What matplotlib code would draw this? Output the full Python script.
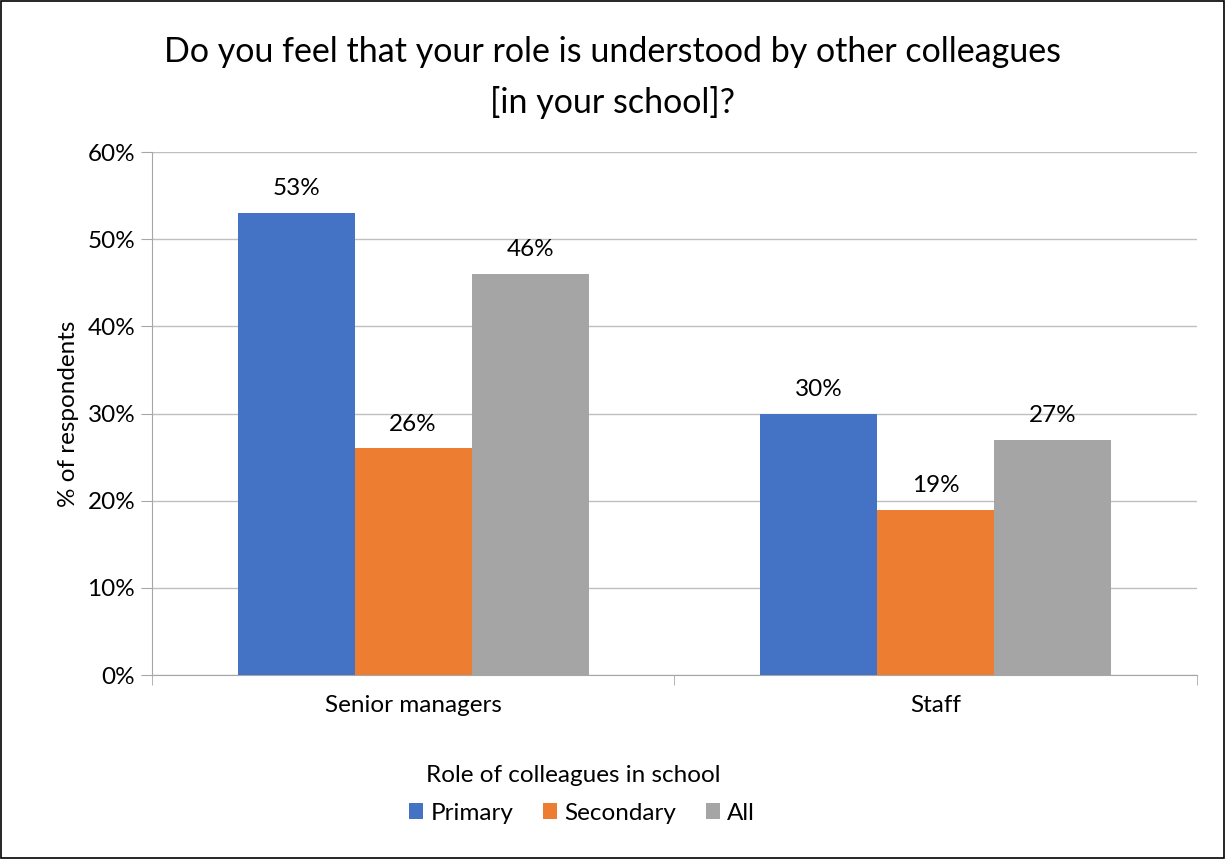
import matplotlib.pyplot as plt
import numpy as np

# data
categories = ['Senior managers', 'Staff']
series = ['Primary', 'Secondary', 'All']
primary = [53, 30]
secondary = [26, 19]
all_vals = [46, 27]
colours = ['#4472C4', '#ED7D31', '#A5A5A5']

plt.rcParams['font.family'] = ['Lato', 'DejaVu Sans']

fig = plt.figure(figsize=(12.25, 8.59), dpi=100)
ax = fig.add_axes([0.124, 0.214, 0.853, 0.609])

x = np.arange(len(categories))
w = 0.224
for i, (vals, name) in enumerate(zip([primary, secondary, all_vals], series)):
    pos = x + (i - 1) * w
    bars = ax.bar(pos, vals, w, color=colours[i], label=name, zorder=3)
    for b, v in zip(bars, vals):
        ax.text(b.get_x() + b.get_width() / 2, v + 1.6, f'{v}%',
                ha='center', va='bottom', fontsize=17.5)

ax.set_xlim(-0.5, 1.5)
ax.set_ylim(0, 60)
ax.set_yticks(range(0, 61, 10))
ax.set_yticklabels([f'{t}%' for t in range(0, 61, 10)], fontsize=17.5)
ax.set_xticks(x)
ax.set_xticklabels(categories, fontsize=17.5)
ax.set_xticks([-0.5, 0.5, 1.5], minor=True)
ax.tick_params(axis='x', which='major', length=0, pad=14)
ax.tick_params(axis='x', which='minor', length=7, color='#A6A6A6')
ax.tick_params(axis='y', length=8, color='#A6A6A6', pad=4)
ax.grid(axis='y', color='#BFBFBF', linewidth=1, zorder=0)
for s in ['top', 'right']:
    ax.spines[s].set_visible(False)
ax.spines['left'].set_color('#A6A6A6')
ax.spines['bottom'].set_color('#A6A6A6')

ax.set_ylabel('% of respondents', fontsize=17.5, labelpad=6)

fig.suptitle('Do you feel that your role is understood by other colleagues\n[in your school]?',
             fontsize=24.5, y=0.958, linespacing=1.65)

fig.text(573 / 1225, 1 - 775 / 859, 'Role of colleagues in school', fontsize=17.5,
         ha='center', va='center')
fig.legend(*ax.get_legend_handles_labels(), loc='center',
           bbox_to_anchor=(582 / 1225, 1 - 813 / 859), ncol=3, frameon=False,
           fontsize=17.5, handlelength=0.6, handleheight=0.6, columnspacing=1.2,
           handletextpad=0.3, borderaxespad=0, borderpad=0)

fig.patches.append(plt.Rectangle((0.001, 0.001), 0.998, 0.998, transform=fig.transFigure,
                                 fill=False, edgecolor='black', linewidth=1.2))

fig.savefig('out.png', dpi=100)
